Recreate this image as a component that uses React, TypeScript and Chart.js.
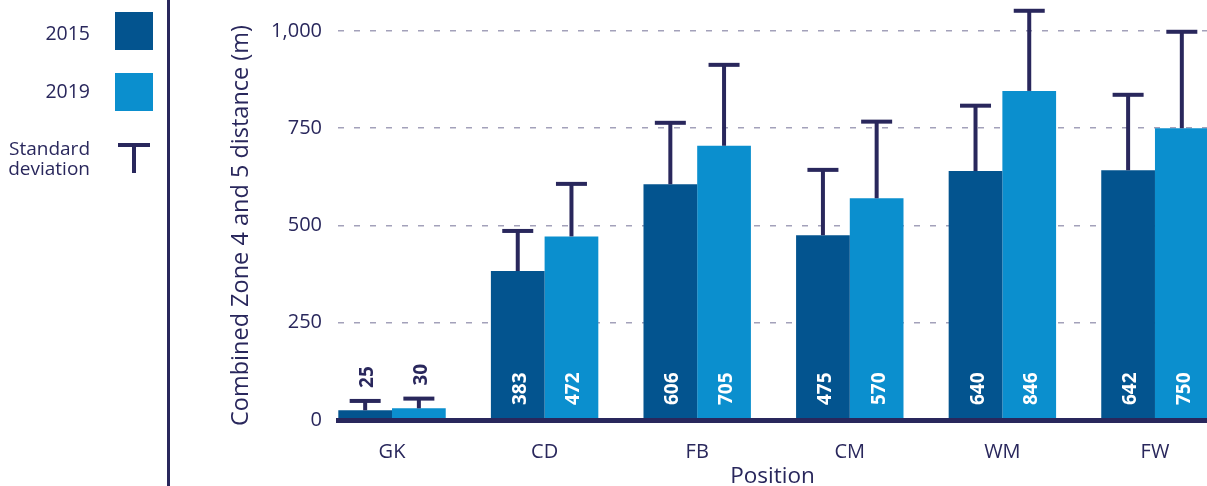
import React, { useEffect, useRef } from 'react';
import { Chart, registerables } from 'chart.js';

Chart.register(...registerables);

// ---- data ----
const positions = ['GK', 'CD', 'FB', 'CM', 'WM', 'FW'];
const years = ['2015', '2019'];
const values2015 = [25, 383, 606, 475, 640, 642];
const values2019 = [30, 472, 705, 570, 846, 750];
const sd2015 = [24, 103, 158, 168, 168, 194];
const sd2019 = [25, 135, 208, 197, 206, 248];
const yTicks = [0, 250, 500, 750, 1000];
const yTitle = 'Combined Zone 4 and 5 distance (m)';
const xTitle = 'Position';
const sdLegend = ['Standard', 'deviation'];

// ---- style ----
const FAMILY = "'Open Sans', 'Noto Sans', sans-serif";
const NAVY = '#29275c';
const DARK = '#03548f';
const LIGHT = '#0b8fce';
const GRID = '#a3a1ba';

const valueSeries = [values2015, values2019];
const sdSeries = [sd2015, sd2019];
const colors = [DARK, LIGHT];

const overlay = {
  id: 'overlay',
  afterDatasetsDraw(chart: any) {
    const ctx = chart.ctx;
    const y = chart.scales.y;
    const zeroPx = y.getPixelForValue(0);
    chart.data.datasets.forEach((_ds: any, di: number) => {
      const meta = chart.getDatasetMeta(di);
      const vals = valueSeries[di];
      const sds = sdSeries[di];
      meta.data.forEach((bar: any, i: number) => {
        const cx = bar.x;
        const top = y.getPixelForValue(vals[i] + sds[i]);
        ctx.save();
        ctx.strokeStyle = NAVY;
        ctx.lineWidth = 4;
        ctx.beginPath();
        ctx.moveTo(cx, bar.y);
        ctx.lineTo(cx, top);
        ctx.stroke();
        ctx.fillStyle = NAVY;
        ctx.fillRect(cx - 15.5, top - 2, 31, 4);
        const inside = vals[i] >= 100;
        ctx.font = `bold 19px ${FAMILY}`;
        ctx.translate(cx + 8, inside ? zeroPx - 15 : top - 13);
        ctx.rotate(-Math.PI / 2);
        ctx.fillStyle = inside ? '#ffffff' : NAVY;
        ctx.textAlign = 'left';
        ctx.textBaseline = 'alphabetic';
        ctx.fillText(String(vals[i]), 0, 0);
        ctx.restore();
      });
    });
  },
  afterDraw(chart: any) {
    const ctx = chart.ctx;
    ctx.save();
    // divider
    ctx.fillStyle = NAVY;
    ctx.fillRect(167, 0, 3, chart.height);
    // legend
    ctx.font = `19.5px ${FAMILY}`;
    ctx.textAlign = 'right';
    ctx.textBaseline = 'alphabetic';
    const baselines = [39.5, 97.5];
    const boxTops = [12, 73];
    years.forEach((yr, k) => {
      ctx.fillStyle = NAVY;
      ctx.fillText(yr, 90, baselines[k]);
      ctx.fillStyle = colors[k];
      ctx.fillRect(115, boxTops[k], 38, 38);
    });
    ctx.fillStyle = NAVY;
    ctx.font = `19px ${FAMILY}`;
    ctx.fillText(sdLegend[0], 90, 155);
    ctx.fillText(sdLegend[1], 90, 175);
    ctx.fillRect(118, 143, 32, 4);
    ctx.fillRect(132, 143, 4, 30);
    ctx.restore();
  },
};

export default function App() {
  const ref = useRef<HTMLCanvasElement | null>(null);
  useEffect(() => {
    document.body.style.margin = '0';
    const canvas = ref.current;
    if (!canvas) return;
    const chart = new Chart(canvas, {
      type: 'bar',
      data: {
        datasets: years.map((yr, k) => ({
          label: yr,
          data: valueSeries[k].map((v, i) => ({ x: i, y: v })),
          backgroundColor: colors[k],
          borderWidth: 0,
        })),
      },
      options: {
        animation: false,
        responsive: false,
        maintainAspectRatio: false,
        layout: { padding: { top: 31, left: 0, right: 0, bottom: 0 } },
        datasets: { bar: { barPercentage: 1, categoryPercentage: 0.704 } } as any,
        plugins: { legend: { display: false }, tooltip: { enabled: false } },
        scales: {
          x: {
            type: 'linear',
            min: -0.354,
            max: 5.341,
            offset: false,
            grid: { display: false, drawTicks: false },
            border: { display: true, color: NAVY, width: 5, z: 1 } as any,
            ticks: {
              autoSkip: false,
              maxRotation: 0,
              padding: 20,
              color: NAVY,
              font: { family: FAMILY, size: 20 },
              callback: (v: any) => positions[v] ?? '',
            },
            afterBuildTicks: (s: any) => {
              s.ticks = positions.map((_p, i) => ({ value: i }));
            },
            afterFit: (s: any) => {
              s.height = 66;
            },
            title: {
              display: true,
              text: xTitle,
              color: NAVY,
              font: { family: FAMILY, size: 22.5, lineHeight: 0.8 },
              padding: { top: 0, bottom: 0 },
            },
          },
          y: {
            min: 0,
            max: 1000,
            afterBuildTicks: (s: any) => {
              s.ticks = yTicks.map((v) => ({ value: v }));
            },
            afterFit: (s: any) => {
              s.width = 338;
            },
            grid: { color: GRID, lineWidth: 1.6, drawTicks: false },
            border: { display: false, dash: [6, 10] },
            ticks: {
              padding: 16,
              color: NAVY,
              font: { family: FAMILY, size: 20 },
              callback: (v: any) => Number(v).toLocaleString('en-US'),
            },
            title: {
              display: true,
              text: yTitle,
              color: NAVY,
              font: { family: FAMILY, size: 23.5, lineHeight: 1.2 },
              padding: { top: 227, bottom: 0 },
            },
          },
        } as any,
      },
      plugins: [overlay],
    });
    return () => chart.destroy();
  }, []);
  return (
    <div style={{ width: 1207, height: 486, overflow: 'hidden', background: '#fff' }}>
      <canvas ref={ref} width={1207} height={486} style={{ display: 'block', width: 1207, height: 486 }} />
    </div>
  );
}
